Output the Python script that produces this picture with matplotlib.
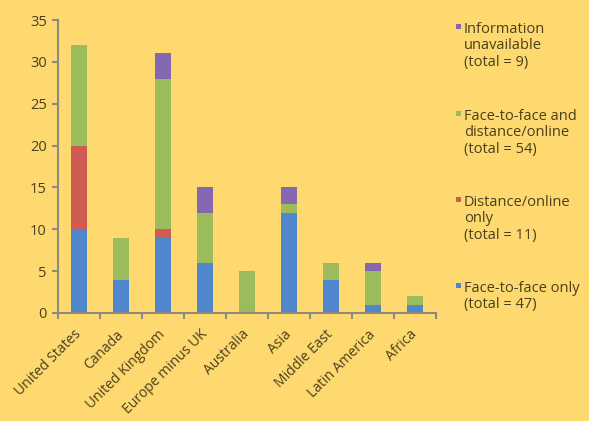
import matplotlib
matplotlib.use("Agg")
import matplotlib.pyplot as plt
import matplotlib.transforms as mtransforms
import numpy as np
from matplotlib.patches import Rectangle

categories = ["United States", "Canada", "United Kingdom", "Europe minus UK",
              "Australia", "Asia", "Middle East", "Latin America", "Africa"]
face_to_face_only = [10, 4, 9, 6, 0, 12, 4, 1, 1]
distance_online_only = [10, 0, 1, 0, 0, 0, 0, 0, 0]
both = [12, 5, 18, 6, 5, 1, 2, 4, 1]
info_unavailable = [0, 0, 3, 3, 0, 2, 0, 1, 0]

series = [face_to_face_only, distance_online_only, both, info_unavailable]
colors = ["#4F86CC", "#CF5B52", "#9CBB5C", "#8568B0"]
legend_labels = ["Information\nunavailable\n(total = 9)",
                 "Face-to-face and\ndistance/online\n(total = 54)",
                 "Distance/online\nonly\n(total = 11)",
                 "Face-to-face only\n(total = 47)"]
legend_colors = [colors[3], colors[2], colors[1], colors[0]]

bg = "#FDD96F"
txt = "#4B3F1C"
axis_c = "#8C8C7C"

plt.rcParams['font.family'] = ['Open Sans', 'DejaVu Sans']

fig = plt.figure(figsize=(5.89, 4.21), dpi=100, facecolor=bg)
ax = fig.add_axes([58/589, 1-313/421, (436-58)/589, (313-20)/421])
ax.set_facecolor(bg)

x = np.arange(len(categories))
bottom = np.zeros(len(categories))
for vals, c in zip(series, colors):
    v = np.array(vals, dtype=float)
    ax.bar(x, v, bottom=bottom, width=0.4, color=c, edgecolor='none', zorder=2)
    bottom += v

ax.set_xlim(-0.5, len(categories) - 0.5)
ax.set_ylim(0, 35)
ax.set_yticks(range(0, 36, 5))
ax.set_xticks(x)
ax.set_xticklabels(categories, rotation=45, ha='right', va='center',
                   rotation_mode='anchor', fontsize=10, color=txt)
offset = mtransforms.ScaledTranslation(9/100, 0, fig.dpi_scale_trans)
for lbl in ax.get_xticklabels():
    lbl.set_transform(lbl.get_transform() + offset)
ax.set_xticks(np.arange(-0.5, len(categories), 1), minor=True)
ax.tick_params(axis='x', which='major', length=0, pad=14)
ax.tick_params(axis='x', which='minor', length=4, color=axis_c, width=1.5, direction='out')
ax.tick_params(axis='y', length=4, color=axis_c, width=1.5, labelsize=10.5,
               labelcolor=txt, pad=4)
for s in ['top', 'right']:
    ax.spines[s].set_visible(False)
for s in ['left', 'bottom']:
    ax.spines[s].set_color(axis_c)
    ax.spines[s].set_linewidth(1.5)

# Legend drawn manually
ys = [22, 109, 195, 281]
for lab, c, yy in zip(legend_labels, legend_colors, ys):
    fig.patches.append(Rectangle((456/589, 1-(yy+7)/421), 5/589, 5/421,
                                 transform=fig.transFigure, facecolor=c,
                                 edgecolor='none'))
    fig.text(464/589, 1-yy/421, lab, fontsize=10.5, color=txt, va='top', ha='left',
             linespacing=1.12)

fig.savefig("out.png", dpi=100, facecolor=bg)
